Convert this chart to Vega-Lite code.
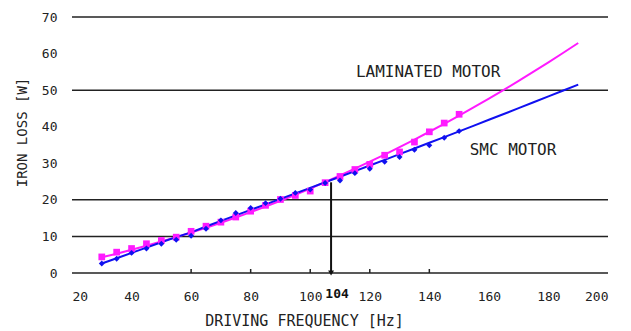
{
  "$schema": "https://vega.github.io/schema/vega-lite/v6.json",
  "width": 536,
  "height": 256,
  "autosize": "none",
  "padding": {"left": 72, "top": 17, "right": 23, "bottom": 58},
  "background": "white",
  "config": {
    "view": {"stroke": null},
    "font": "DejaVu Sans Mono",
    "axisX": {
      "tickCount": 10, "grid": false, "domain": false, "ticks": false,
      "labelPadding": 17, "labelFont": "DejaVu Sans Mono", "labelFontSize": 13, "labelColor": "#222",
      "titleFont": "DejaVu Sans Mono", "titleFontSize": 15, "titleFontWeight": "normal", "titleColor": "#222",
      "titleX": 232, "titleY": 40
    },
    "axisY": {
      "tickCount": 8, "grid": false, "domain": false, "ticks": false,
      "labelPadding": 15, "labelFont": "DejaVu Sans Mono", "labelFontSize": 13, "labelColor": "#222",
      "titleFont": "DejaVu Sans Mono", "titleFontSize": 14, "titleFontWeight": "normal", "titleColor": "#222",
      "titleX": -50, "titleY": 115, "titleBaseline": "middle"
    }
  },
  "datasets": {
    "grid": [{"loss": 0}, {"loss": 10}, {"loss": 20}, {"loss": 50}, {"loss": 70}],
    "ticks": [{"freq": 60}, {"freq": 80}, {"freq": 100}, {"freq": 120}, {"freq": 140}],
    "fit": [
      {"series": "LAMINATED", "freq": 30, "loss": 4.30},
      {"series": "LAMINATED", "freq": 35, "loss": 5.29},
      {"series": "LAMINATED", "freq": 40, "loss": 6.34},
      {"series": "LAMINATED", "freq": 45, "loss": 7.44},
      {"series": "LAMINATED", "freq": 50, "loss": 8.59},
      {"series": "LAMINATED", "freq": 55, "loss": 9.80},
      {"series": "LAMINATED", "freq": 60, "loss": 11.06},
      {"series": "LAMINATED", "freq": 65, "loss": 12.37},
      {"series": "LAMINATED", "freq": 70, "loss": 13.74},
      {"series": "LAMINATED", "freq": 75, "loss": 15.17},
      {"series": "LAMINATED", "freq": 80, "loss": 16.65},
      {"series": "LAMINATED", "freq": 85, "loss": 18.18},
      {"series": "LAMINATED", "freq": 90, "loss": 19.77},
      {"series": "LAMINATED", "freq": 95, "loss": 21.41},
      {"series": "LAMINATED", "freq": 100, "loss": 23.10},
      {"series": "LAMINATED", "freq": 105, "loss": 24.85},
      {"series": "LAMINATED", "freq": 110, "loss": 26.66},
      {"series": "LAMINATED", "freq": 115, "loss": 28.52},
      {"series": "LAMINATED", "freq": 120, "loss": 30.43},
      {"series": "LAMINATED", "freq": 125, "loss": 32.39},
      {"series": "LAMINATED", "freq": 130, "loss": 34.41},
      {"series": "LAMINATED", "freq": 135, "loss": 36.49},
      {"series": "LAMINATED", "freq": 140, "loss": 38.62},
      {"series": "LAMINATED", "freq": 145, "loss": 40.80},
      {"series": "LAMINATED", "freq": 150, "loss": 43.04},
      {"series": "LAMINATED", "freq": 155, "loss": 45.33},
      {"series": "LAMINATED", "freq": 160, "loss": 47.67},
      {"series": "LAMINATED", "freq": 165, "loss": 50.08},
      {"series": "LAMINATED", "freq": 170, "loss": 52.53},
      {"series": "LAMINATED", "freq": 175, "loss": 55.04},
      {"series": "LAMINATED", "freq": 180, "loss": 57.60},
      {"series": "LAMINATED", "freq": 185, "loss": 60.22},
      {"series": "LAMINATED", "freq": 190, "loss": 62.89},
      {"series": "SMC", "freq": 30, "loss": 2.60},
      {"series": "SMC", "freq": 35, "loss": 4.04},
      {"series": "SMC", "freq": 40, "loss": 5.49},
      {"series": "SMC", "freq": 45, "loss": 6.94},
      {"series": "SMC", "freq": 50, "loss": 8.40},
      {"series": "SMC", "freq": 55, "loss": 9.80},
      {"series": "SMC", "freq": 60, "loss": 11.10},
      {"series": "SMC", "freq": 65, "loss": 12.70},
      {"series": "SMC", "freq": 70, "loss": 14.25},
      {"series": "SMC", "freq": 75, "loss": 15.77},
      {"series": "SMC", "freq": 80, "loss": 17.26},
      {"series": "SMC", "freq": 85, "loss": 18.76},
      {"series": "SMC", "freq": 90, "loss": 20.26},
      {"series": "SMC", "freq": 95, "loss": 21.77},
      {"series": "SMC", "freq": 100, "loss": 23.29},
      {"series": "SMC", "freq": 105, "loss": 24.80},
      {"series": "SMC", "freq": 110, "loss": 26.33},
      {"series": "SMC", "freq": 115, "loss": 27.86},
      {"series": "SMC", "freq": 120, "loss": 29.40},
      {"series": "SMC", "freq": 125, "loss": 30.94},
      {"series": "SMC", "freq": 130, "loss": 32.49},
      {"series": "SMC", "freq": 135, "loss": 34.04},
      {"series": "SMC", "freq": 140, "loss": 35.60},
      {"series": "SMC", "freq": 145, "loss": 37.17},
      {"series": "SMC", "freq": 150, "loss": 38.74},
      {"series": "SMC", "freq": 155, "loss": 40.31},
      {"series": "SMC", "freq": 160, "loss": 41.89},
      {"series": "SMC", "freq": 165, "loss": 43.48},
      {"series": "SMC", "freq": 170, "loss": 45.07},
      {"series": "SMC", "freq": 175, "loss": 46.68},
      {"series": "SMC", "freq": 180, "loss": 48.28},
      {"series": "SMC", "freq": 185, "loss": 49.89},
      {"series": "SMC", "freq": 190, "loss": 51.50}
    ],
    "measured": [
      {"series": "LAMINATED", "freq": 30, "loss": 4.4},
      {"series": "LAMINATED", "freq": 35, "loss": 5.7},
      {"series": "LAMINATED", "freq": 40, "loss": 6.7},
      {"series": "LAMINATED", "freq": 45, "loss": 8.0},
      {"series": "LAMINATED", "freq": 50, "loss": 8.9},
      {"series": "LAMINATED", "freq": 55, "loss": 9.8},
      {"series": "LAMINATED", "freq": 60, "loss": 11.4},
      {"series": "LAMINATED", "freq": 65, "loss": 12.8},
      {"series": "LAMINATED", "freq": 70, "loss": 13.9},
      {"series": "LAMINATED", "freq": 75, "loss": 15.3},
      {"series": "LAMINATED", "freq": 80, "loss": 16.9},
      {"series": "LAMINATED", "freq": 85, "loss": 18.5},
      {"series": "LAMINATED", "freq": 90, "loss": 20.1},
      {"series": "LAMINATED", "freq": 95, "loss": 21.2},
      {"series": "LAMINATED", "freq": 100, "loss": 22.4},
      {"series": "LAMINATED", "freq": 105, "loss": 24.7},
      {"series": "LAMINATED", "freq": 110, "loss": 26.4},
      {"series": "LAMINATED", "freq": 115, "loss": 28.3},
      {"series": "LAMINATED", "freq": 120, "loss": 29.7},
      {"series": "LAMINATED", "freq": 125, "loss": 32.2},
      {"series": "LAMINATED", "freq": 130, "loss": 33.1},
      {"series": "LAMINATED", "freq": 135, "loss": 35.8},
      {"series": "LAMINATED", "freq": 140, "loss": 38.6},
      {"series": "LAMINATED", "freq": 145, "loss": 41.0},
      {"series": "LAMINATED", "freq": 150, "loss": 43.4},
      {"series": "SMC", "freq": 30, "loss": 2.6},
      {"series": "SMC", "freq": 35, "loss": 3.9},
      {"series": "SMC", "freq": 40, "loss": 5.5},
      {"series": "SMC", "freq": 45, "loss": 6.7},
      {"series": "SMC", "freq": 50, "loss": 8.0},
      {"series": "SMC", "freq": 55, "loss": 9.1},
      {"series": "SMC", "freq": 60, "loss": 10.2},
      {"series": "SMC", "freq": 65, "loss": 12.1},
      {"series": "SMC", "freq": 70, "loss": 14.4},
      {"series": "SMC", "freq": 75, "loss": 16.4},
      {"series": "SMC", "freq": 80, "loss": 17.8},
      {"series": "SMC", "freq": 85, "loss": 19.1},
      {"series": "SMC", "freq": 90, "loss": 20.3},
      {"series": "SMC", "freq": 95, "loss": 21.9},
      {"series": "SMC", "freq": 100, "loss": 22.8},
      {"series": "SMC", "freq": 105, "loss": 24.6},
      {"series": "SMC", "freq": 110, "loss": 25.3},
      {"series": "SMC", "freq": 115, "loss": 27.3},
      {"series": "SMC", "freq": 120, "loss": 28.5},
      {"series": "SMC", "freq": 125, "loss": 30.4},
      {"series": "SMC", "freq": 130, "loss": 31.7},
      {"series": "SMC", "freq": 135, "loss": 33.7},
      {"series": "SMC", "freq": 140, "loss": 34.9},
      {"series": "SMC", "freq": 145, "loss": 37.0},
      {"series": "SMC", "freq": 150, "loss": 38.8}
    ],
    "notes": [
      {"freq": 107, "loss": 24.8, "kind": "arrow"},
      {"freq": 139.6, "loss": 54.9, "label": "LAMINATED MOTOR"},
      {"freq": 168.1, "loss": 33.6, "label": "SMC MOTOR"}
    ]
  },
  "layer": [
    {
      "data": {"name": "grid"},
      "mark": {"type": "rule", "color": "#222", "strokeWidth": 1.5},
      "encoding": {
        "y": {
          "field": "loss", "type": "quantitative",
          "scale": {"domain": [0, 70], "nice": false},
          "title": "IRON LOSS [W]"
        }
      }
    },
    {
      "data": {"name": "ticks"},
      "mark": {"type": "rule", "color": "#222", "strokeWidth": 1.5},
      "encoding": {
        "x": {
          "field": "freq", "type": "quantitative",
          "scale": {"domain": [20, 200], "nice": false, "zero": false},
          "title": "DRIVING FREQUENCY [Hz]"
        },
        "y": {"datum": 0, "type": "quantitative"},
        "y2": {"datum": 1.1}
      }
    },
    {
      "data": {"name": "fit"},
      "mark": {"type": "line", "strokeWidth": 2},
      "encoding": {
        "x": {"field": "freq", "type": "quantitative", "title": "DRIVING FREQUENCY [Hz]"},
        "y": {"field": "loss", "type": "quantitative", "title": "IRON LOSS [W]"},
        "detail": {"field": "series"},
        "color": {"field": "series", "type": "nominal", "scale": {"domain": ["LAMINATED", "SMC"], "range": ["#ff1aff", "#1010f0"]}, "legend": null}
      }
    },
    {
      "data": {"name": "measured"},
      "mark": {"type": "point", "filled": true, "opacity": 1},
      "encoding": {
        "x": {"field": "freq", "type": "quantitative", "title": "DRIVING FREQUENCY [Hz]"},
        "y": {"field": "loss", "type": "quantitative", "title": "IRON LOSS [W]"},
        "shape": {"field": "series", "type": "nominal", "scale": {"domain": ["LAMINATED", "SMC"], "range": ["square", "diamond"]}, "legend": null},
        "size": {"field": "series", "type": "nominal", "scale": {"domain": ["LAMINATED", "SMC"], "range": [45, 35]}, "legend": null},
        "color": {"field": "series", "type": "nominal", "scale": {"domain": ["LAMINATED", "SMC"], "range": ["#ff1aff", "#1a1a80"]}, "legend": null}
      }
    },
    {
      "data": {"name": "notes"},
      "transform": [{"filter": "datum.kind === 'arrow'"}],
      "layer": [
        {
          "mark": {"type": "rule", "color": "#111", "strokeWidth": 2},
          "encoding": {
            "x": {"field": "freq", "type": "quantitative", "title": "DRIVING FREQUENCY [Hz]"},
            "y": {"field": "loss", "type": "quantitative", "title": "IRON LOSS [W]"},
            "y2": {"datum": 0}
          }
        },
        {
          "mark": {"type": "point", "shape": "triangle-down", "filled": true, "color": "#111", "size": 35, "opacity": 1},
          "encoding": {
            "x": {"field": "freq", "type": "quantitative", "title": "DRIVING FREQUENCY [Hz]"},
            "y": {"datum": 0, "type": "quantitative"}
          }
        },
        {
          "mark": {"type": "text", "text": "104", "font": "DejaVu Sans Mono", "fontSize": 13, "fontWeight": "bold", "color": "#111", "dx": 6, "dy": 21, "baseline": "middle", "clip": false},
          "encoding": {
            "x": {"field": "freq", "type": "quantitative", "title": "DRIVING FREQUENCY [Hz]"},
            "y": {"datum": 0, "type": "quantitative"}
          }
        }
      ]
    },
    {
      "data": {"name": "notes"},
      "transform": [{"filter": "datum.label != null"}],
      "mark": {"type": "text", "font": "DejaVu Sans Mono", "fontSize": 16, "color": "#222", "baseline": "middle", "align": "center"},
      "encoding": {
        "x": {"field": "freq", "type": "quantitative", "title": "DRIVING FREQUENCY [Hz]"},
        "y": {"field": "loss", "type": "quantitative", "title": "IRON LOSS [W]"},
        "text": {"field": "label"}
      }
    }
  ]
}
